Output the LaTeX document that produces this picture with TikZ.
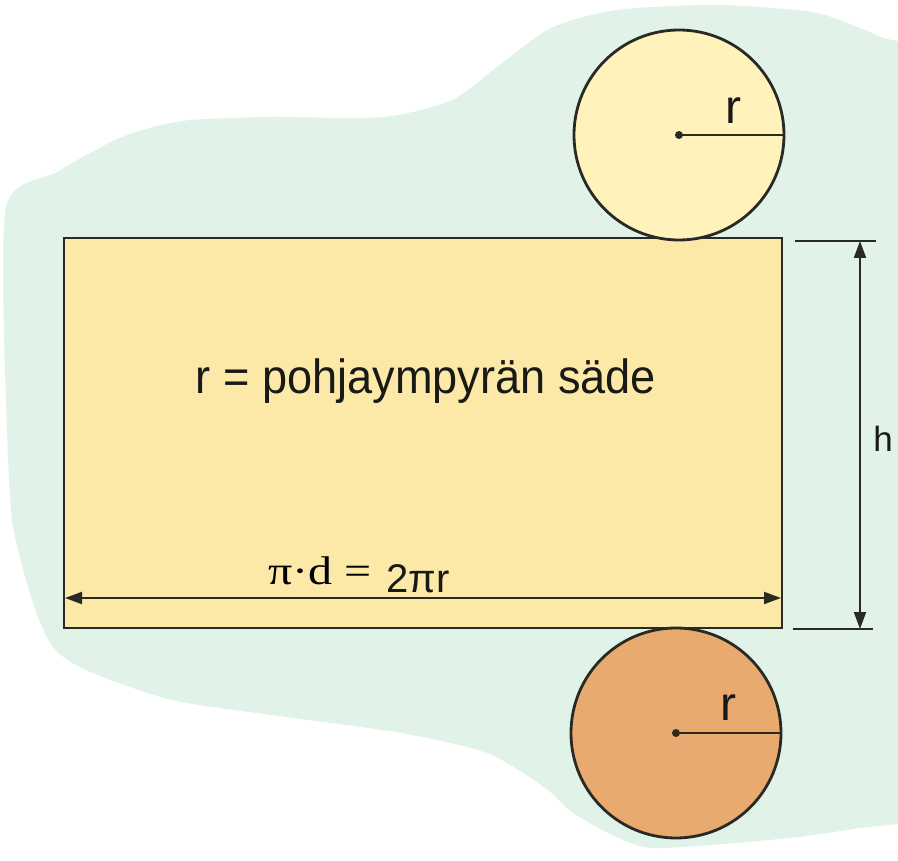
\documentclass[tikz,border=0pt]{standalone}
\usepackage{fontspec}
\setmainfont{Liberation Serif}
\newfontfamily\arial{Liberation Sans}
\usetikzlibrary{arrows.meta}
\definecolor{bggreen}{RGB}{225,243,232}
\definecolor{rectfill}{RGB}{252,233,168}
\definecolor{topfill}{RGB}{255,242,186}
\definecolor{botfill}{RGB}{232,170,110}
\definecolor{ink}{RGB}{40,42,35}
\definecolor{txtink}{RGB}{25,25,22}
\tikzset{
  outline/.style={draw=ink, line width=2.8pt},
  dimline/.style={draw=ink, line width=2pt},
  dimarrow/.style={dimline, {Triangle[length=17pt,width=12pt]}-{Triangle[length=17pt,width=12pt]}},
  sanslabel/.style={font=\arial\fontsize{48}{56}\selectfont, text=txtink, inner sep=0pt},
}
\begin{document}
\begin{tikzpicture}[x=1pt,y=-1pt]
\useasboundingbox (0,0) rectangle (898,861);
% background blob
\fill[bggreen] plot[smooth, tension=0.45] coordinates {
 (6,400) (6,207) (57,172) (115,140) (153,127) (191,120) (268,117) (383,117) (452,100)
 (497,67) (551,28) (617,10) (717,5) (817,13) (883,38)}
 -- (920,46) -- (920,822)
 -- plot[smooth, tension=0.45] coordinates {(859,828) (790,838) (659,848) (619,838) (573,813) (544,787)
 (487,753) (401,733) (286,717) (172,700) (86,670) (53,647) (33,603) (12,520) (6,400)} -- cycle;
% lateral surface
\node[outline, fill=rectfill, minimum width=718pt, minimum height=390pt, inner sep=0pt] (rect) at (423,433) {};
% circles
\node[outline, fill=topfill, circle, minimum size=210pt, inner sep=0pt] (topc) at (679,135) {};
\node[outline, fill=botfill, circle, minimum size=210pt, inner sep=0pt] (botc) at (676,733) {};
\draw[dimline, line width=2.4pt] (topc.center) -- (topc.east);
\fill[ink] (topc.center) circle (4);
\draw[dimline, line width=2.4pt] (botc.center) -- (botc.east);
\fill[ink] (botc.center) circle (4);
\node[sanslabel, anchor=base] (rtop) at (733,124) {r};
\node[sanslabel, anchor=base] (rbot) at (728,720) {r};
% main text
\node[sanslabel, anchor=base] (txt) at (426,393) {\scalebox{0.94}[1]{r = pohjaympyrän säde}};
% width dimension
\coordinate (wl) at (65,598);
\coordinate (wr) at (781,598);
\draw[dimarrow] (wl) -- (wr);
\node[anchor=base west, inner sep=0pt, text=black, font=\fontsize{40}{48}\selectfont] (pid) at (268,584) {\scalebox{1.2}[1]{π·d =}};
\node[anchor=base west, inner sep=0pt, text=txtink, font=\arial\fontsize{40}{48}\selectfont] (tpr) at (386,592) {2πr};
% height dimension
\coordinate (t1) at (795,241);
\coordinate (t2) at (876,241);
\coordinate (b1) at (793,629);
\coordinate (b2) at (873,629);
\draw[dimline] (t1) -- (t2);
\draw[dimline] (b1) -- (b2);
\coordinate (ha) at (860,241);
\coordinate (hb) at (860,629);
\draw[dimarrow] (ha) -- (hb);
\node[anchor=base, inner sep=0pt, text=txtink, font=\arial\fontsize{35}{42}\selectfont] (hl) at (883,451) {h};
\end{tikzpicture}
\end{document}
